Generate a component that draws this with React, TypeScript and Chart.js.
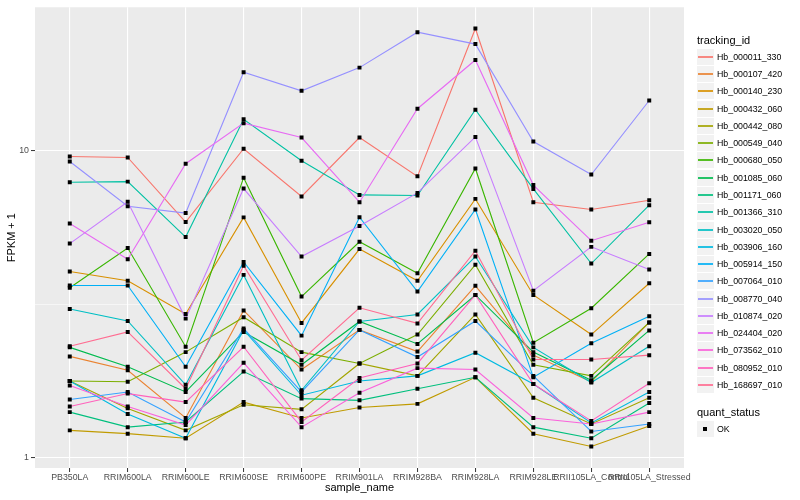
import React, { useEffect, useRef } from 'react';
import { Chart, registerables } from 'chart.js';

Chart.register(...registerables);

const FONT = "'Liberation Sans', Arial, Helvetica, sans-serif";

const categories = [
  'PB350LA', 'RRIM600LA', 'RRIM600LE', 'RRIM600SE', 'RRIM600PE', 'RRIM901LA',
  'RRIM928BA', 'RRIM928LA', 'RRIM928LE', 'RRII105LA_Control', 'RRII105LA_Stressed',
];

const seriesNames = [
  'Hb_000011_330', 'Hb_000107_420', 'Hb_000140_230', 'Hb_000432_060', 'Hb_000442_080',
  'Hb_000549_040', 'Hb_000680_050', 'Hb_001085_060', 'Hb_001171_060', 'Hb_001366_310',
  'Hb_003020_050', 'Hb_003906_160', 'Hb_005914_150', 'Hb_007064_010', 'Hb_008770_040',
  'Hb_010874_020', 'Hb_024404_020', 'Hb_073562_010', 'Hb_080952_010', 'Hb_168697_010',
];

const seriesColors = [
  '#F8766D', '#EA8331', '#D89000', '#C09B00', '#A3A500',
  '#7CAE00', '#39B600', '#00BB4E', '#00BF7D', '#00C1A3',
  '#00BFC4', '#00BAE0', '#00B0F6', '#35A2FF', '#9590FF',
  '#C77CFF', '#E76BF3', '#FA62DB', '#FF62BC', '#FF6C91',
];

const hb000011_330 = [9.56, 9.49, 5.85, 10.13, 7.09, 11.02, 8.24, 24.93, 6.79, 6.43, 6.89];
const hb000107_420 = [2.14, 1.93, 1.35, 3.02, 1.94, 2.61, 2.22, 3.63, 2.16, 1.77, 2.76];
const hb000140_230 = [4.04, 3.77, 2.94, 6.06, 2.75, 4.78, 3.77, 6.96, 3.39, 2.52, 3.70];
const hb000432_060 = [1.23, 1.20, 1.16, 1.52, 1.35, 1.46, 1.50, 1.83, 1.20, 1.09, 1.27];
const hb000442_080 = [1.78, 1.45, 1.23, 1.49, 1.44, 2.03, 1.85, 2.93, 1.57, 1.29, 1.57];
const hb000549_040 = [1.78, 1.77, 2.21, 2.87, 2.21, 2.03, 2.52, 4.25, 2.01, 1.85, 2.76];
const hb000680_050 = [3.58, 4.82, 2.30, 8.16, 3.35, 5.05, 3.99, 8.74, 2.37, 3.07, 4.61];
const hb001085_060 = [2.29, 1.98, 1.64, 2.57, 2.01, 2.78, 2.35, 3.39, 2.21, 1.79, 2.60];
const hb001171_060 = [1.41, 1.26, 1.31, 1.91, 1.56, 1.54, 1.68, 1.83, 1.26, 1.16, 1.51];
const hb001366_310 = [7.88, 7.92, 5.23, 12.63, 9.26, 7.17, 7.14, 13.57, 7.50, 4.29, 6.64];
const hb003020_050 = [3.05, 2.79, 1.73, 3.94, 1.66, 2.78, 2.93, 4.52, 2.29, 1.76, 2.31];
const hb003906_160 = [1.78, 1.39, 1.16, 2.61, 1.60, 1.78, 1.85, 2.20, 1.74, 1.30, 1.64];
const hb005914_150 = [3.64, 3.64, 1.98, 4.34, 2.50, 6.07, 3.48, 6.43, 1.83, 2.36, 2.89];
const hb007064_010 = [1.55, 1.64, 1.31, 2.64, 1.64, 2.61, 2.13, 2.79, 1.85, 1.22, 1.29];
const hb008770_040 = [9.21, 6.59, 6.26, 17.97, 15.63, 18.6, 24.25, 22.18, 10.69, 8.35, 14.54];
const hb010874_020 = [4.98, 6.81, 2.84, 7.52, 4.52, 5.68, 7.28, 11.07, 3.50, 4.86, 4.10];
const hb024404_020 = [5.79, 4.43, 9.06, 12.27, 11.02, 6.79, 13.67, 19.69, 7.72, 5.09, 5.84];
const hb073562_010 = [1.72, 1.47, 1.28, 2.04, 1.26, 1.63, 1.96, 1.94, 1.35, 1.29, 1.41];
const hb080952_010 = [1.47, 1.62, 1.52, 2.30, 1.31, 1.82, 2.03, 3.39, 1.74, 1.32, 1.75];
const hb168697_010 = [2.31, 2.57, 1.68, 4.22, 2.08, 3.08, 2.74, 4.72, 2.09, 2.09, 2.16];

const seriesValues = [
  hb000011_330, hb000107_420, hb000140_230, hb000432_060, hb000442_080,
  hb000549_040, hb000680_050, hb001085_060, hb001171_060, hb001366_310,
  hb003020_050, hb003906_160, hb005914_150, hb007064_010, hb008770_040,
  hb010874_020, hb024404_020, hb073562_010, hb080952_010, hb168697_010,
];

const yTickValues = [1, 3.1623, 10];
const yTickLabels = ['1', '', '10'];
const yMin = 0.928;
const yMax = 29.22;

const quantStatus = ['OK'];

export default function App() {
  const ref = useRef<HTMLCanvasElement | null>(null);

  useEffect(() => {
    if (!ref.current) return;
    const panelBg = {
      id: 'panelBg',
      beforeDraw(chart: any) {
        const { ctx, chartArea: a } = chart;
        ctx.save();
        ctx.fillStyle = '#EBEBEB';
        ctx.fillRect(a.left, a.top, a.right - a.left, a.bottom - a.top);
        ctx.restore();
      },
    };

    const lineSets = seriesValues.map((vals, i) => ({
      type: 'line',
      label: seriesNames[i],
      data: vals.map((v, j) => ({ x: j, y: v })),
      borderColor: seriesColors[i],
      backgroundColor: seriesColors[i],
      borderWidth: 1.1,
      pointRadius: 0,
      fill: false,
      tension: 0,
      order: 100 - i,
    }));

    const pointSets = seriesValues.map((vals, i) => ({
      type: 'scatter',
      label: seriesNames[i] + ' ' + quantStatus[0],
      data: vals.map((v, j) => ({ x: j, y: v })),
      showLine: false,
      pointStyle: 'rect',
      pointRadius: 2.8,
      pointBackgroundColor: '#000000',
      backgroundColor: '#000000',
      borderColor: '#000000',
      pointBorderWidth: 0,
      borderWidth: 0,
      order: 0,
    }));

    const isMinor = (ctx: any) => ctx && ctx.tick && yTickLabels[ctx.index] === '';

    const chart = new Chart(ref.current, {
      type: 'line',
      data: { datasets: [...lineSets, ...pointSets] as any },
      options: {
        animation: false,
        responsive: false,
        maintainAspectRatio: false,
        layout: { padding: { left: 0, top: 5, right: 116, bottom: 0 } },
        plugins: {
          legend: { display: false },
          tooltip: { enabled: false },
        },
        scales: {
          x: {
            type: 'linear',
            min: -0.6,
            max: 10.6,
            afterBuildTicks: (s: any) => {
              s.ticks = categories.map((_, i) => ({ value: i }));
            },
            afterFit: (s: any) => {
              s.height = 32;
            },
            ticks: {
              autoSkip: false,
              maxRotation: 0,
              minRotation: 0,
              padding: 0,
              color: '#4D4D4D',
              font: { family: FONT, size: 8.8 },
              callback: (v: any) => categories[v as number] ?? '',
            },
            grid: {
              color: '#FFFFFF',
              lineWidth: 1.1,
              tickColor: '#333333',
              tickLength: 4,
              tickWidth: 1,
            },
            border: { display: false },
            title: {
              display: true,
              text: 'sample_name',
              color: '#000000',
              font: { family: FONT, size: 11 },
              padding: { top: 0, bottom: 5 },
            },
          },
          y: {
            type: 'logarithmic',
            min: yMin,
            max: yMax,
            afterBuildTicks: (s: any) => {
              s.ticks = yTickValues.map((v) => ({ value: v }));
            },
            afterFit: (s: any) => {
              s.width = 35;
            },
            ticks: {
              padding: 2,
              color: '#4D4D4D',
              font: { family: FONT, size: 8.8 },
              callback: (_v: any, idx: number) => yTickLabels[idx],
            },
            grid: {
              color: '#FFFFFF',
              lineWidth: (ctx: any) => (isMinor(ctx) ? 0.55 : 1.1),
              tickColor: (ctx: any) => (isMinor(ctx) ? 'rgba(0,0,0,0)' : '#333333'),
              tickLength: 4,
              tickWidth: 1,
            },
            border: { display: false },
            title: {
              display: true,
              text: 'FPKM + 1',
              color: '#000000',
              font: { family: FONT, size: 11 },
              padding: { top: 5, bottom: 0 },
            },
          },
        },
      } as any,
      plugins: [panelBg],
    });

    return () => chart.destroy();
  }, []);

  const keyStep = 17.28;
  const firstCenter = 56.7;

  return (
    <div
      style={{
        position: 'absolute',
        left: 0,
        top: 0,
        width: 800,
        height: 500,
        background: '#FFFFFF',
        fontFamily: FONT,
        overflow: 'hidden',
      }}
    >
      <canvas ref={ref} width={800} height={500} style={{ position: 'absolute', left: 0, top: 0 }} />
      <div style={{ position: 'absolute', left: 697, top: 34, fontSize: 11, lineHeight: '13px', color: '#000' }}>
        tracking_id
      </div>
      {seriesNames.map((n, i) => {
        const c = firstCenter + keyStep * i;
        const top = Math.round(c - 8);
        return (
          <React.Fragment key={n}>
            <div
              style={{
                position: 'absolute',
                left: 697,
                top: top,
                width: 17,
                height: 16,
                background: '#F2F2F2',
              }}
            >
              <div
                style={{
                  position: 'absolute',
                  left: 1,
                  width: 15,
                  top: 7,
                  height: 2,
                  background: seriesColors[i],
                  opacity: 0.85,
                }}
              />
            </div>
            <div
              style={{
                position: 'absolute',
                left: 717,
                top: top - 1,
                fontSize: 8.8,
                lineHeight: '18px',
                color: '#000',
                whiteSpace: 'nowrap',
              }}
            >
              {n}
            </div>
          </React.Fragment>
        );
      })}
      <div style={{ position: 'absolute', left: 697, top: 406, fontSize: 11, lineHeight: '13px', color: '#000' }}>
        quant_status
      </div>
      <div
        style={{
          position: 'absolute',
          left: 697,
          top: 421,
          width: 17,
          height: 16,
          background: '#F2F2F2',
        }}
      >
        <div
          style={{
            position: 'absolute',
            left: 6,
            top: 6,
            width: 4,
            height: 4,
            background: '#000',
          }}
        />
      </div>
      <div
        style={{
          position: 'absolute',
          left: 717,
          top: 420,
          fontSize: 8.8,
          lineHeight: '18px',
          color: '#000',
        }}
      >
        {quantStatus[0]}
      </div>
    </div>
  );
}
